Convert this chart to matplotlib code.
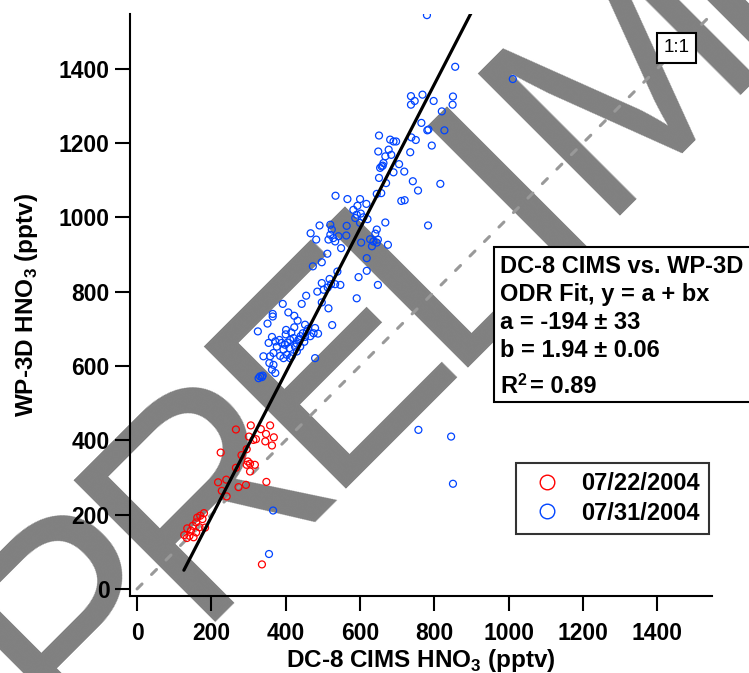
import matplotlib
matplotlib.use("Agg")
import matplotlib.pyplot as plt
from matplotlib.lines import Line2D
from matplotlib.patches import Rectangle
from matplotlib.textpath import TextPath
from matplotlib import font_manager as fm
import numpy as np

plt.rcParams['font.family'] = ['Liberation Sans', 'DejaVu Sans']
plt.rcParams['mathtext.fontset'] = 'custom'
plt.rcParams['mathtext.bf'] = 'Liberation Sans:bold'
plt.rcParams['mathtext.rm'] = 'Liberation Sans:bold'

# ---- data ----
red_x = [266, 306, 333, 358, 347, 368, 301, 313, 320, 345, 363, 225, 295, 281, 298, 304, 317, 295,
         304, 266, 240, 218, 348, 273, 293, 228, 241, 180, 170, 162, 176, 159, 150, 183, 135, 168,
         145, 159, 127, 141, 152, 134, 336]
red_y = [429, 440, 430, 440, 417, 408, 410, 401, 403, 397, 386, 367, 376, 360, 343, 337, 334, 334,
         316, 326, 294, 287, 288, 274, 280, 264, 249, 204, 197, 192, 188, 179, 170, 165, 163, 166,
         157, 152, 145, 143, 139, 137, 66]

blue_x = [780, 856, 1011, 737, 768, 747, 737, 798, 850, 849, 820, 765, 781, 784, 827, 651, 738, 750,
          681, 690, 697, 793, 677, 649, 735, 684, 668, 663, 658, 654, 661, 705, 690, 719, 651, 670,
          742, 756, 816, 711, 720, 645, 657, 668, 783, 645, 648, 675, 648, 534, 566, 600, 617, 593,
          582, 591, 602, 587, 609, 620, 600, 491, 467, 482, 520, 524, 520, 528, 542, 515, 533, 564,
          563, 549, 512, 641, 627, 636, 645, 632, 603, 618, 473, 497, 539, 596, 618, 497, 518, 522,
          533, 547, 513, 485, 502, 455, 591, 392, 443, 497, 515, 365, 365, 407, 423, 432, 351, 325,
          401, 423, 452, 479, 475, 487, 466, 452, 457, 525, 363, 354, 372, 383, 389, 398, 405, 412,
          421, 425, 410, 394, 376, 367, 358, 385, 403, 416, 430, 439, 434, 340, 356, 367, 372, 363,
          331, 338, 394, 412, 479, 446, 437, 336, 327, 400, 415, 440, 430, 450, 460, 757, 845, 850,
          366, 355]
blue_y = [1544, 1405, 1372, 1326, 1330, 1313, 1303, 1313, 1325, 1303, 1285, 1254, 1234, 1236, 1234,
          1220, 1215, 1208, 1209, 1204, 1204, 1193, 1182, 1177, 1175, 1168, 1164, 1146, 1137, 1133,
          1139, 1143, 1121, 1123, 1106, 1092, 1097, 1072, 1090, 1044, 1046, 1063, 1065, 986, 978, 967,
          940, 926, 818, 1058, 1049, 1049, 1036, 1031, 1020, 1007, 1010, 998, 1000, 995, 985, 978,
          957, 940, 980, 967, 953, 944, 949, 940, 935, 977, 951, 917, 902, 956, 941, 935, 932, 922,
          932, 890, 868, 879, 854, 839, 856, 823, 834, 820, 820, 818, 811, 800, 805, 789, 782, 767,
          767, 771, 755, 740, 733, 744, 735, 722, 714, 693, 697, 704, 711, 702, 688, 687, 680, 678,
          693, 710, 678, 662, 666, 670, 662, 657, 663, 670, 675, 652, 648, 644, 652, 635, 626, 627,
          630, 626, 639, 652, 670, 626, 608, 603, 581, 590, 572, 574, 621, 621, 621, 688, 672, 570,
          567, 685, 690, 680, 660, 665, 700, 428, 410, 283, 211, 94]

fit_a, fit_b = -194.0, 1.94
fit_x = [126, 901]
one_to_one = [0, 1600]

xticks = [0, 200, 400, 600, 800, 1000, 1200, 1400]
yticks = [0, 200, 400, 600, 800, 1000, 1200, 1400]
legend_labels = ['07/22/2004', '07/31/2004']
fit_lines = ['DC-8 CIMS vs. WP-3D', 'ODR Fit, y = a + bx', 'a = -194 \u00b1 33', 'b = 1.94 \u00b1 0.06']
watermark_letters = ['P', 'R', 'E', 'L', 'I', 'M', 'I']

RED = '#ff0000'
BLUE = '#0044ff'
GRAY = '#808080'

W, H = 749, 673
fig = plt.figure(figsize=(W / 100, H / 100), dpi=100)
fig.patch.set_facecolor('white')


def fx(px):
    return px / W


def fy(py):
    return 1 - py / H


ax = fig.add_axes([fx(130), fy(596), 582 / W, 582 / H])
ax.patch.set_alpha(0)
ax.set_xlim(-19, 1547)
ax.set_ylim(-19, 1547)

# ---- watermark (rotated text, drawn behind everything) ----
wm_family = 'Liberation Sans'
wm_prop = fm.FontProperties(family=wm_family)
cap_em = TextPath((0, 0), 'E', size=1, prop=wm_prop).get_extents().height
wm_size = 200 / cap_em * 72 / 100          # points
em_px = wm_size * 100 / 72
diag = 1 / np.sqrt(2)
step = 258 * diag
wm_adv = [0.667, 0.722, 0.667, 0.556, 0.278, 0.833]
cx, cy = 86.0, 726.0                       # lower-left ink corner of each letter (pixels)
for i, ch in enumerate(watermark_letters):
    lsb = TextPath((0, 0), ch, size=1, prop=wm_prop).get_extents().x0 * em_px
    ox, oy = cx - lsb * diag, cy + lsb * diag
    fig.text(fx(ox), fy(oy), ch, rotation=45, rotation_mode='anchor', ha='left', va='baseline',
             fontsize=wm_size, color=GRAY, zorder=-5, family=wm_family)
    if i < len(wm_adv):
        cx += wm_adv[i] * step
        cy -= wm_adv[i] * step

ax.plot(one_to_one, one_to_one, color='#999999', lw=2.2, dashes=(2.3, 4.4),
        dash_capstyle='round', zorder=1)
ax.scatter(blue_x, blue_y, s=25, facecolors='none', edgecolors=BLUE, linewidths=0.9, zorder=3)
ax.scatter(red_x, red_y, s=25, facecolors='none', edgecolors=RED, linewidths=0.9, zorder=3)
fx_arr = np.array(fit_x, dtype=float)
ax.plot(fx_arr, fit_a + fit_b * fx_arr, color='black', lw=2.3, zorder=4, solid_capstyle='round')

for s in ['top', 'right']:
    ax.spines[s].set_visible(False)
for s in ['left', 'bottom']:
    ax.spines[s].set_linewidth(1.5)
ax.set_xticks(xticks)
ax.set_yticks(yticks)
ax.tick_params(direction='out', length=10.8, width=1.5, labelsize=16.5)
ax.tick_params(axis='x', pad=8)
ax.tick_params(axis='y', pad=4)
for lab in ax.get_xticklabels() + ax.get_yticklabels():
    lab.set_fontweight('bold')

ax.set_xlabel('DC-8 CIMS HNO$_\\mathbf{3}$ (pptv)', fontsize=17.5, fontweight='bold', labelpad=1)
ax.set_ylabel('WP-3D HNO$_\\mathbf{3}$ (pptv)', fontsize=17.5, fontweight='bold', labelpad=13.5)

# 1:1 label
fig.text(fx(676.5), fy(48), '1:1', ha='center', va='center', fontsize=13.5,
         bbox=dict(boxstyle='square,pad=0.35', fc='white', ec='black', lw=1.5), zorder=5)

# fit text box
fig.patches.append(Rectangle((fx(494), fy(402)), (760 - 494) / W, (402 - 247) / H,
                             transform=fig.transFigure, fc='white', ec='black', lw=1.5, zorder=4))
base = [273, 301, 329, 357]
for t, yb in zip(fit_lines, base):
    fig.text(fx(500), fy(yb), t, fontsize=17, fontweight='bold', ha='left', va='baseline', zorder=6)
fig.text(fx(500), fy(393), 'R', fontsize=17, fontweight='bold', ha='left', va='baseline', zorder=6)
fig.text(fx(517), fy(385), '2', fontsize=11.5, fontweight='bold', ha='left', va='baseline', zorder=6)
fig.text(fx(530), fy(393), '= 0.89', fontsize=17, fontweight='bold', ha='left', va='baseline', zorder=6)

handles = [Line2D([], [], ls='none', marker='o', ms=10.5, mfc='none', mec=RED, mew=1.0),
           Line2D([], [], ls='none', marker='o', ms=10.5, mfc='none', mec=BLUE, mew=1.0)]
leg = ax.legend(handles, legend_labels, loc='upper left',
                bbox_to_anchor=(fx(516), fy(463)), bbox_transform=fig.transFigure,
                frameon=True, fancybox=False, borderaxespad=0, borderpad=0.39,
                handlelength=1.85, handletextpad=0.5, labelspacing=0.27,
                prop=dict(weight='bold', size=17))
leg.get_frame().set_edgecolor('black')
leg.get_frame().set_linewidth(1.5)
leg.set_zorder(6)

fig.savefig('out.png', dpi=100)
